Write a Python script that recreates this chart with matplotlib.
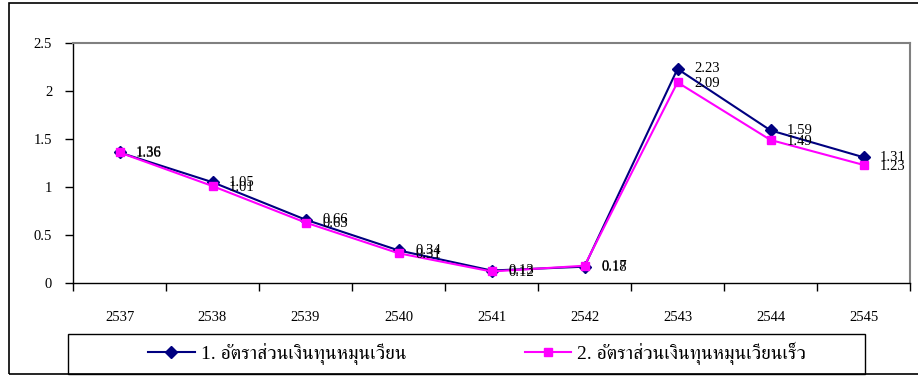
import matplotlib.pyplot as plt
from matplotlib.patches import Rectangle

years = ['2537', '2538', '2539', '2540', '2541', '2542', '2543', '2544', '2545']
current_ratio = [1.36, 1.05, 0.66, 0.34, 0.13, 0.17, 2.23, 1.59, 1.31]
quick_ratio = [1.36, 1.01, 0.63, 0.31, 0.12, 0.18, 2.09, 1.49, 1.23]
names = ['1. อัตราส่วนเงินทุนหมุนเวียน', '2. อัตราส่วนเงินทุนหมุนเวียนเร็ว']

# Liberation Serif for digits, FreeSerif for the Thai glyphs
plt.rcParams['font.family'] = ['Liberation Serif', 'FreeSerif']

fig = plt.figure(figsize=(9.18, 3.76), dpi=100)
ax = fig.add_axes([73 / 918, 93 / 376, 837 / 918, 240 / 376])

x = list(range(len(years)))
ax.plot(x, current_ratio, color='#000080', marker='D', markersize=6, lw=1.5, label=names[0])
ax.plot(x, quick_ratio, color='#FF00FF', marker='s', markersize=6, lw=1.5, label=names[1])

for xi, v in zip(x, current_ratio):
    ax.annotate(f'{v:.2f}', (xi, v), xytext=(12, 0), textcoords='offset points',
                va='center', ha='left', fontsize=10.5)
for xi, v in zip(x, quick_ratio):
    ax.annotate(f'{v:.2f}', (xi, v), xytext=(12, -1), textcoords='offset points',
                va='center', ha='left', fontsize=10.5)

ax.set_xlim(-0.5, len(years) - 0.5)
ax.set_ylim(0, 2.5)
ax.set_yticks([0, 0.5, 1, 1.5, 2, 2.5])
ax.set_yticklabels(['0', '0.5', '1', '1.5', '2', '2.5'])
ax.set_xticks(x)
ax.set_xticklabels(years)
ax.set_xticks([i - 0.5 for i in range(len(years) + 1)], minor=True)
ax.tick_params(axis='x', which='major', length=0, pad=20, labelsize=10.5)
ax.tick_params(axis='x', which='minor', length=6, direction='out', width=1)
ax.tick_params(axis='y', length=6, direction='out', width=1, labelsize=10.5, pad=9)

for s in ['top', 'right']:
    ax.spines[s].set_color('#808080')
    ax.spines[s].set_linewidth(1.5)
for s in ['left', 'bottom']:
    ax.spines[s].set_color('black')
    ax.spines[s].set_linewidth(1)

# outer chart frame
fig.patches.append(Rectangle((9 / 918, 2 / 376), 1.0, 371 / 376, transform=fig.transFigure,
                             fill=False, edgecolor='black', lw=1.2))
# legend box
fig.patches.append(Rectangle((68 / 918, 2 / 376), 797 / 918, 40 / 376, transform=fig.transFigure,
                             fill=False, edgecolor='black', lw=1))

leg = fig.legend(loc='center', bbox_to_anchor=(477 / 918, 23 / 376),
                 ncol=2, fontsize=14, frameon=False,
                 handlelength=2.4, handletextpad=0.3, columnspacing=6.1)

plt.savefig('out.png', dpi=100)
